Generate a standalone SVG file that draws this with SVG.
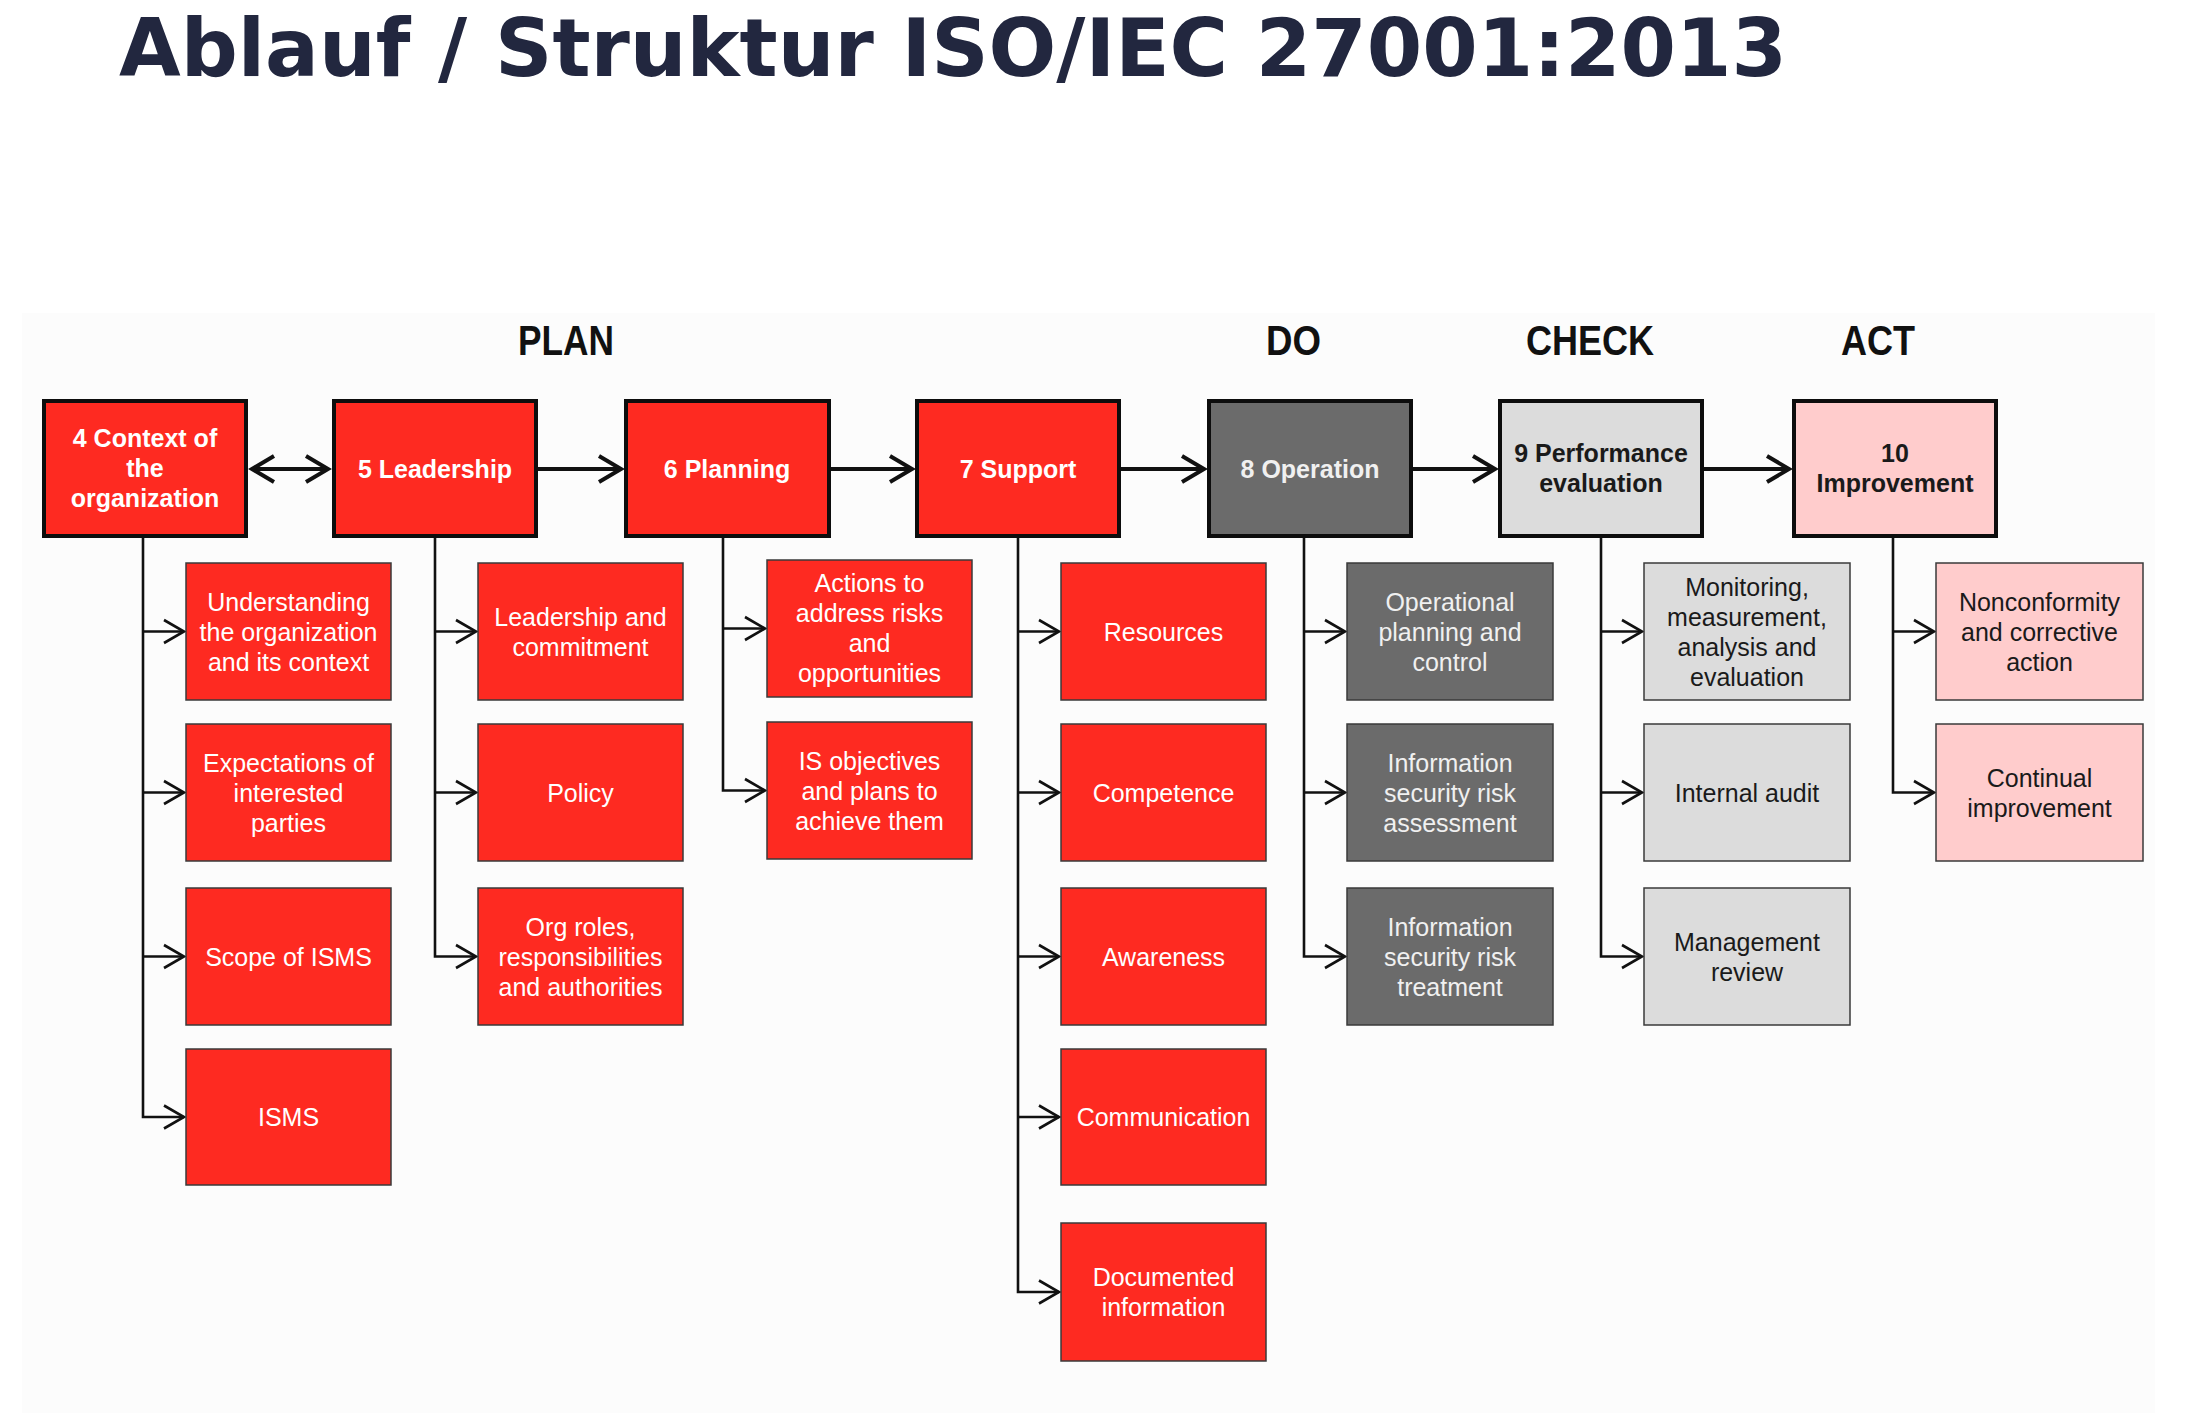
<svg xmlns="http://www.w3.org/2000/svg" width="2194" height="1416" viewBox="0 0 2194 1416">
<defs>
<style>
.title{font-family:"DejaVu Sans",Verdana,sans-serif;font-weight:bold;font-size:81px;fill:#22273f}
.phase{font-family:"Liberation Sans",Arial,sans-serif;font-weight:bold;font-size:42px;fill:#111}
.mt{font-family:"Liberation Sans",Arial,sans-serif;font-weight:bold;font-size:25px;text-anchor:middle}
.st{font-family:"Liberation Sans",Arial,sans-serif;font-size:25px;text-anchor:middle}
.main{stroke:#0d0d0d;stroke-width:4}
.sub{stroke:#3a3a3a;stroke-width:1.5}
.red{fill:#fe2a21}
.dark{fill:#6b6b6b}
.light{fill:#dcdcdc}
.pink{fill:#ffcccc}
.w{fill:#ffffff}
.wg{fill:#f0f0f0}
.k{fill:#1a1a1a}
.mc{fill:none;stroke:#111;stroke-width:4}
.sc{fill:none;stroke:#111;stroke-width:2.6}
</style>
<marker id="am" markerUnits="userSpaceOnUse" markerWidth="40" markerHeight="40" viewBox="-30 -20 40 40" refX="0" refY="0" orient="auto-start-reverse" overflow="visible">
<path d="M -22 -13 L 0 0 L -22 13" fill="none" stroke="#111" stroke-width="4"/>
</marker>
<marker id="as" markerUnits="userSpaceOnUse" markerWidth="40" markerHeight="40" viewBox="-30 -20 40 40" refX="0" refY="0" orient="auto" overflow="visible">
<path d="M -20 -11.5 L 0 0 L -20 11.5" fill="none" stroke="#111" stroke-width="2.6"/>
</marker>
</defs>
<rect x="0" y="0" width="2194" height="1416" fill="#ffffff"/>
<rect x="22" y="313" width="2133" height="1100" fill="#fcfcfc"/>
<text class="title" x="119" y="76" textLength="1668" lengthAdjust="spacingAndGlyphs">Ablauf / Struktur ISO/IEC 27001:2013</text>

<g id="labels">
<text class="phase" x="518" y="355" textLength="96" lengthAdjust="spacingAndGlyphs">PLAN</text>
<text class="phase" x="1266" y="355" textLength="55" lengthAdjust="spacingAndGlyphs">DO</text>
<text class="phase" x="1526" y="355" textLength="128" lengthAdjust="spacingAndGlyphs">CHECK</text>
<text class="phase" x="1841" y="355" textLength="74" lengthAdjust="spacingAndGlyphs">ACT</text>
</g>

<g id="connectors">
<path class="mc" d="M 252 469 H 328" marker-start="url(#am)" marker-end="url(#am)"/>
<path class="mc" d="M 538 469 H 621" marker-end="url(#am)"/>
<path class="mc" d="M 831 469 H 912" marker-end="url(#am)"/>
<path class="mc" d="M 1121 469 H 1204" marker-end="url(#am)"/>
<path class="mc" d="M 1413 469 H 1495" marker-end="url(#am)"/>
<path class="mc" d="M 1704 469 H 1789" marker-end="url(#am)"/>

<path class="sc" d="M 143 538 V 1117 H 184" marker-end="url(#as)"/>
<path class="sc" d="M 143 631.5 H 184" marker-end="url(#as)"/>
<path class="sc" d="M 143 792.5 H 184" marker-end="url(#as)"/>
<path class="sc" d="M 143 956.5 H 184" marker-end="url(#as)"/>

<path class="sc" d="M 435 538 V 956.5 H 476" marker-end="url(#as)"/>
<path class="sc" d="M 435 631.5 H 476" marker-end="url(#as)"/>
<path class="sc" d="M 435 792.5 H 476" marker-end="url(#as)"/>

<path class="sc" d="M 723 538 V 790.5 H 765" marker-end="url(#as)"/>
<path class="sc" d="M 723 628.5 H 765" marker-end="url(#as)"/>

<path class="sc" d="M 1018 538 V 1292 H 1059" marker-end="url(#as)"/>
<path class="sc" d="M 1018 631.5 H 1059" marker-end="url(#as)"/>
<path class="sc" d="M 1018 792.5 H 1059" marker-end="url(#as)"/>
<path class="sc" d="M 1018 956.5 H 1059" marker-end="url(#as)"/>
<path class="sc" d="M 1018 1117 H 1059" marker-end="url(#as)"/>

<path class="sc" d="M 1304 538 V 956.5 H 1345" marker-end="url(#as)"/>
<path class="sc" d="M 1304 631.5 H 1345" marker-end="url(#as)"/>
<path class="sc" d="M 1304 792.5 H 1345" marker-end="url(#as)"/>

<path class="sc" d="M 1601 538 V 956.5 H 1642" marker-end="url(#as)"/>
<path class="sc" d="M 1601 631.5 H 1642" marker-end="url(#as)"/>
<path class="sc" d="M 1601 792.5 H 1642" marker-end="url(#as)"/>

<path class="sc" d="M 1893 538 V 792.5 H 1934" marker-end="url(#as)"/>
<path class="sc" d="M 1893 631.5 H 1934" marker-end="url(#as)"/>
</g>

<!-- main nodes -->
<g id="n4"><rect class="main red" x="44" y="401" width="202" height="135"/>
<text class="mt w" x="145" y="447">4 Context of</text><text class="mt w" x="145" y="477">the</text><text class="mt w" x="145" y="507">organization</text></g>
<g id="n5"><rect class="main red" x="334" y="401" width="202" height="135"/>
<text class="mt w" x="435" y="478">5 Leadership</text></g>
<g id="n6"><rect class="main red" x="626" y="401" width="203" height="135"/>
<text class="mt w" x="727" y="478">6 Planning</text></g>
<g id="n7"><rect class="main red" x="917" y="401" width="202" height="135"/>
<text class="mt w" x="1018" y="478">7 Support</text></g>
<g id="n8"><rect class="main dark" x="1209" y="401" width="202" height="135"/>
<text class="mt wg" x="1310" y="478">8 Operation</text></g>
<g id="n9"><rect class="main light" x="1500" y="401" width="202" height="135"/>
<text class="mt k" x="1601" y="462">9 Performance</text><text class="mt k" x="1601" y="492">evaluation</text></g>
<g id="n10"><rect class="main pink" x="1794" y="401" width="202" height="135"/>
<text class="mt k" x="1895" y="462">10</text><text class="mt k" x="1895" y="492">Improvement</text></g>

<!-- column 4 -->
<g id="s4a"><rect class="sub red" x="186" y="563" width="205" height="137"/>
<text class="st w" x="288.5" y="611">Understanding</text><text class="st w" x="288.5" y="641">the organization</text><text class="st w" x="288.5" y="671">and its context</text></g>
<g id="s4b"><rect class="sub red" x="186" y="724" width="205" height="137"/>
<text class="st w" x="288.5" y="772">Expectations  of</text><text class="st w" x="288.5" y="802">interested</text><text class="st w" x="288.5" y="832">parties</text></g>
<g id="s4c"><rect class="sub red" x="186" y="888" width="205" height="137"/>
<text class="st w" x="288.5" y="965.5">Scope of ISMS</text></g>
<g id="s4d"><rect class="sub red" x="186" y="1049" width="205" height="136"/>
<text class="st w" x="288.5" y="1126">ISMS</text></g>

<!-- column 5 -->
<g id="s5a"><rect class="sub red" x="478" y="563" width="205" height="137"/>
<text class="st w" x="580.5" y="626">Leadership  and</text><text class="st w" x="580.5" y="656">commitment</text></g>
<g id="s5b"><rect class="sub red" x="478" y="724" width="205" height="137"/>
<text class="st w" x="580.5" y="801.5">Policy</text></g>
<g id="s5c"><rect class="sub red" x="478" y="888" width="205" height="137"/>
<text class="st w" x="580.5" y="936">Org roles,</text><text class="st w" x="580.5" y="966">responsibilities</text><text class="st w" x="580.5" y="996">and authorities</text></g>

<!-- column 6 -->
<g id="s6a"><rect class="sub red" x="767" y="560" width="205" height="137"/>
<text class="st w" x="869.5" y="592">Actions to</text><text class="st w" x="869.5" y="622">address risks</text><text class="st w" x="869.5" y="652">and</text><text class="st w" x="869.5" y="682">opportunities</text></g>
<g id="s6b"><rect class="sub red" x="767" y="722" width="205" height="137"/>
<text class="st w" x="869.5" y="770">IS objectives</text><text class="st w" x="869.5" y="800">and plans to</text><text class="st w" x="869.5" y="830">achieve them</text></g>

<!-- column 7 -->
<g id="s7a"><rect class="sub red" x="1061" y="563" width="205" height="137"/>
<text class="st w" x="1163.5" y="640.5">Resources</text></g>
<g id="s7b"><rect class="sub red" x="1061" y="724" width="205" height="137"/>
<text class="st w" x="1163.5" y="801.5">Competence</text></g>
<g id="s7c"><rect class="sub red" x="1061" y="888" width="205" height="137"/>
<text class="st w" x="1163.5" y="965.5">Awareness</text></g>
<g id="s7d"><rect class="sub red" x="1061" y="1049" width="205" height="136"/>
<text class="st w" x="1163.5" y="1126">Communication</text></g>
<g id="s7e"><rect class="sub red" x="1061" y="1223" width="205" height="138"/>
<text class="st w" x="1163.5" y="1286">Documented</text><text class="st w" x="1163.5" y="1316">information</text></g>

<!-- column 8 -->
<g id="s8a"><rect class="sub dark" x="1347" y="563" width="206" height="137"/>
<text class="st wg" x="1450" y="611">Operational</text><text class="st wg" x="1450" y="641">planning  and</text><text class="st wg" x="1450" y="671">control</text></g>
<g id="s8b"><rect class="sub dark" x="1347" y="724" width="206" height="137"/>
<text class="st wg" x="1450" y="772">Information</text><text class="st wg" x="1450" y="802">security risk</text><text class="st wg" x="1450" y="832">assessment</text></g>
<g id="s8c"><rect class="sub dark" x="1347" y="888" width="206" height="137"/>
<text class="st wg" x="1450" y="936">Information</text><text class="st wg" x="1450" y="966">security risk</text><text class="st wg" x="1450" y="996">treatment</text></g>

<!-- column 9 -->
<g id="s9a"><rect class="sub light" x="1644" y="563" width="206" height="137"/>
<text class="st k" x="1747" y="596">Monitoring,</text><text class="st k" x="1747" y="626">measurement,</text><text class="st k" x="1747" y="656">analysis and</text><text class="st k" x="1747" y="686">evaluation</text></g>
<g id="s9b"><rect class="sub light" x="1644" y="724" width="206" height="137"/>
<text class="st k" x="1747" y="801.5">Internal  audit</text></g>
<g id="s9c"><rect class="sub light" x="1644" y="888" width="206" height="137"/>
<text class="st k" x="1747" y="951">Management</text><text class="st k" x="1747" y="981">review</text></g>

<!-- column 10 -->
<g id="s10a"><rect class="sub pink" x="1936" y="563" width="207" height="137"/>
<text class="st k" x="2039.5" y="611">Nonconformity</text><text class="st k" x="2039.5" y="641">and corrective</text><text class="st k" x="2039.5" y="671">action</text></g>
<g id="s10b"><rect class="sub pink" x="1936" y="724" width="207" height="137"/>
<text class="st k" x="2039.5" y="787">Continual</text><text class="st k" x="2039.5" y="817">improvement</text></g>
</svg>
